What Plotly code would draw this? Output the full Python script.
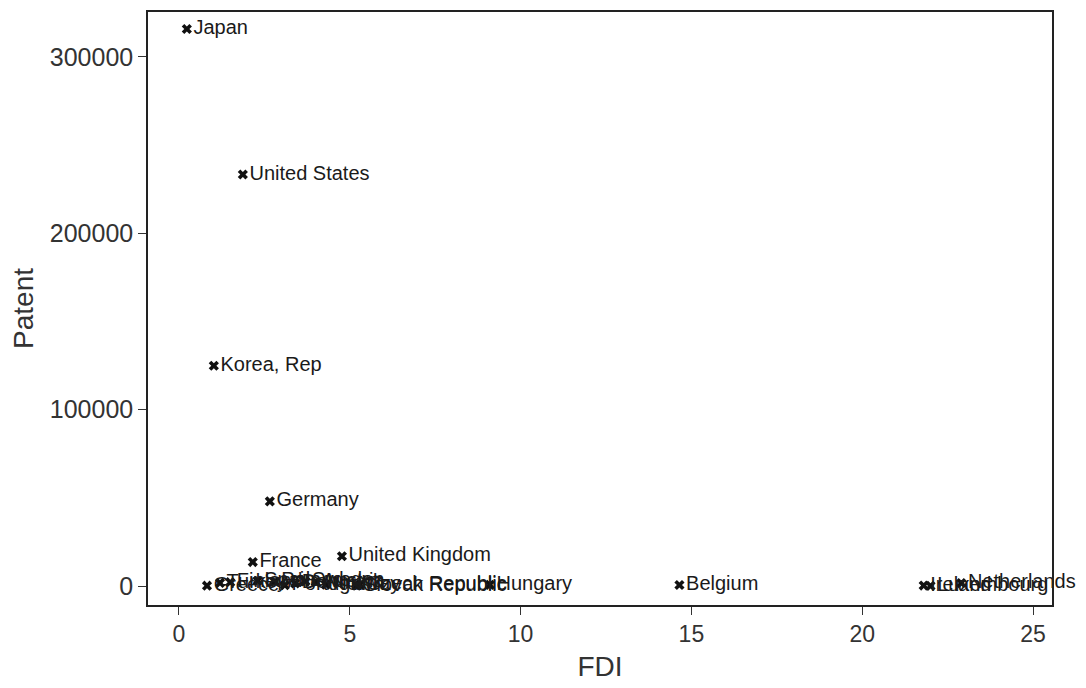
import plotly.graph_objects as go

countries = ["Japan", "United States", "Korea, Rep", "Germany", "France", "United Kingdom",
             "Greece", "Turkey", "Finland", "Spain", "Poland", "Portugal", "Denmark",
             "Sweden", "Austria", "Norway", "Czech Republic", "Slovak Republic", "Hungary",
             "Belgium", "Ireland", "Luxembourg", "Netherlands"]
fdi = [0.23, 1.87, 1.02, 2.66, 2.16, 4.77,
       0.82, 1.2, 1.5, 2.3, 2.8, 3.1, 3.4,
       3.7, 4.0, 4.3, 5.3, 5.2, 9.1,
       14.65, 21.8, 22.0, 22.9]
patent = [315800, 233300, 124900, 48000, 13600, 16900,
          200, 1800, 2200, 3000, 2600, 500, 1500,
          2700, 2300, 800, 700, 200, 700,
          600, 300, 100, 1700]

x_ticks = [0, 5, 10, 15, 20, 25]
y_ticks = [0, 100000, 200000, 300000]

FONT = "Liberation Sans, Arial, sans-serif"

fig = go.Figure()
fig.add_trace(go.Scatter(
    x=fdi, y=patent, text=countries,
    mode="markers+text", textposition="middle right",
    marker=dict(symbol="x", size=9, color="#111111", line=dict(width=0)),
    textfont=dict(family=FONT, size=20, color="#1a1a1a"),
    showlegend=False, cliponaxis=False,
))

axis_common = dict(
    showline=True, linecolor="#222222", linewidth=1.5, mirror=True,
    ticks="outside", ticklen=8, tickcolor="#333333", tickwidth=1,
    showgrid=False, zeroline=False,
)
fig.update_xaxes(range=[-0.907, 25.556], tickvals=x_ticks, ticktext=[str(v) for v in x_ticks],
                 tickfont=dict(family=FONT, size=23, color="#333333"),
                 title=dict(text="FDI", font=dict(family=FONT, size=28, color="#333333"), standoff=10),
                 **axis_common)
fig.update_yaxes(range=[-10734, 325424], tickvals=y_ticks, ticktext=[str(v) for v in y_ticks],
                 tickfont=dict(family=FONT, size=25, color="#333333"),
                 title=dict(text="Patent", font=dict(family=FONT, size=28, color="#333333"), standoff=12),
                 **axis_common)
# The page body has an 8px margin, so the figure is drawn 8px in from the top-left corner.
fig.update_layout(
    width=1078, height=680,
    margin=dict(l=140, r=34, t=2, b=83),
    plot_bgcolor="white", paper_bgcolor="white",
)
fig.write_html("out.html")
